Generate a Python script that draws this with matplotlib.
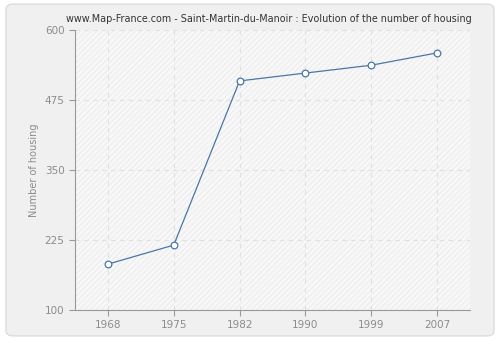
import matplotlib
matplotlib.use("Agg")
import matplotlib.pyplot as plt
from matplotlib.patches import FancyBboxPatch

years = ["1968", "1975", "1982", "1990", "1999", "2007"]
housing = [182, 216, 509, 523, 537, 559]
yticks = [100, 225, 350, 475, 600]

fig = plt.figure(figsize=(5, 3.4), dpi=100, facecolor="white")
frame = FancyBboxPatch((0.012, 0.012), 0.976, 0.976, boxstyle="round,pad=0,rounding_size=0.015",
                       transform=fig.transFigure, facecolor="#f0f0f0", edgecolor="#dcdcdc",
                       linewidth=1.0, zorder=-10)
fig.patches.append(frame)

ax = fig.add_axes([0.15, 0.088, 0.79, 0.824])
ax.set_facecolor("#f8f8f8")
ax.patch.set_hatch("//////")
ax.patch.set_edgecolor("#eeeeee")
ax.patch.set_linewidth(0)

x = list(range(len(years)))
ax.plot(x, housing, color="#4a76a8", linewidth=0.9, marker="o", markersize=4.8,
        markerfacecolor="white", markeredgecolor="#4a76a8", markeredgewidth=0.9, zorder=3)

ax.set_xlim(-0.5, len(years) - 0.5)
ax.set_ylim(100, 600)
ax.set_xticks(x)
ax.set_xticklabels(years)
ax.set_yticks(yticks)

ax.grid(True, color="#e0e0e0", linestyle=(0, (4, 4)), linewidth=0.8)
ax.set_axisbelow(True)
for side in ["top", "right"]:
    ax.spines[side].set_visible(False)
for side in ["left", "bottom"]:
    ax.spines[side].set_color("#999999")
ax.tick_params(colors="#999999", labelsize=7.5, length=4, labelcolor="#8c8c8c")

ax.set_ylabel("Number of housing", fontsize=7, color="#8c8c8c")
ax.set_title("www.Map-France.com - Saint-Martin-du-Manoir : Evolution of the number of housing",
             fontsize=6.9, color="#333333", pad=6, x=0.49)

fig.savefig("out.png", dpi=100, facecolor=fig.get_facecolor())
